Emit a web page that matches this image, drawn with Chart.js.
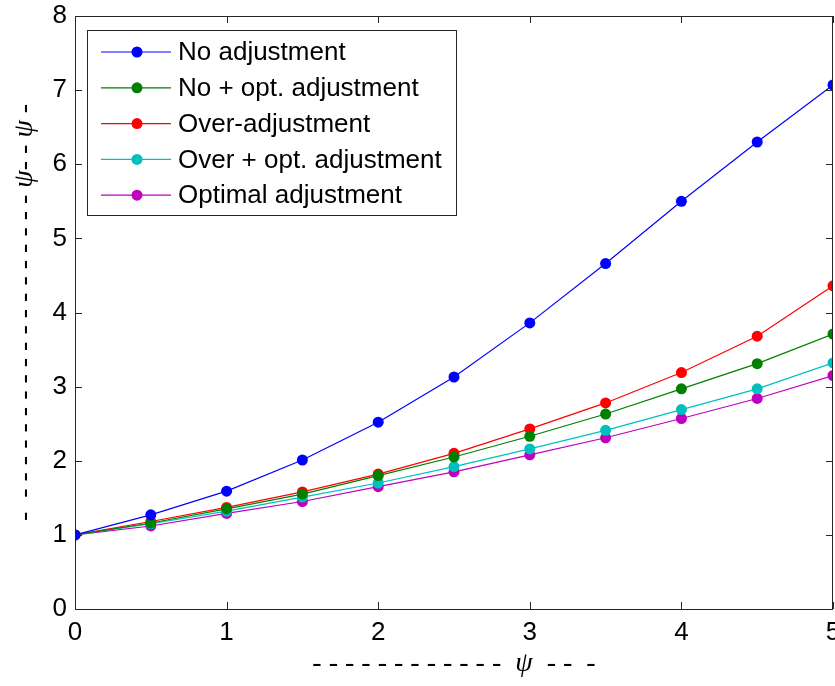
<!DOCTYPE html>
<html>
<head>
<meta charset="utf-8">
<script src="https://cdn.jsdelivr.net/npm/chart.js"></script>
<style>
  html, body { margin: 0; padding: 0; background: #fff; }
  #wrap { width: 835px; height: 686px; }
</style>
</head>
<body>
<div id="wrap"><canvas id="myChart" width="835" height="686"></canvas></div>
<script>
const xValues = [0, 0.5, 1, 1.5, 2, 2.5, 3, 3.5, 4, 4.5, 5];
const xTicks = [0, 1, 2, 3, 4, 5];
const yTicks = [0, 1, 2, 3, 4, 5, 6, 7, 8];

const noAdj      = [1, 1.27, 1.59, 2.01, 2.52, 3.13, 3.86, 4.66, 5.50, 6.30, 7.07];
const noOptAdj   = [1, 1.16, 1.35, 1.55, 1.80, 2.05, 2.33, 2.63, 2.97, 3.31, 3.71];
const overAdj    = [1, 1.18, 1.37, 1.58, 1.82, 2.10, 2.43, 2.78, 3.19, 3.68, 4.36];
const overOptAdj = [1, 1.15, 1.32, 1.51, 1.70, 1.92, 2.16, 2.41, 2.69, 2.97, 3.32];
const optimalAdj = [1, 1.12, 1.29, 1.45, 1.65, 1.85, 2.08, 2.31, 2.57, 2.84, 3.15];

const seriesNames = ['No adjustment', 'No + opt. adjustment', 'Over-adjustment', 'Over + opt. adjustment', 'Optimal adjustment'];
const seriesValues = [noAdj, noOptAdj, overAdj, overOptAdj, optimalAdj];
const colors = ['#0000ff', '#008000', '#ff0000', '#00bfbf', '#bf00bf'];

const xTitle = '- - - - - - - - - - - -  \u03c8  - -  -';
const yTitle = '-  - - - - - - - - - - - - - - - - - - - \u03c8- - \u03c8 -';

const FONT = '"Liberation Sans", Arial, sans-serif';
const TITLE_FONT = '"Liberation Serif", "Times New Roman", serif';
const AXIS = '#262626';

// box round the plot with inward ticks on all four sides
const framePlugin = {
    id: 'frame',
    afterDatasetsDraw(chart) {
        const { ctx, chartArea: a, scales } = chart;
        ctx.save();
        ctx.strokeStyle = AXIS;
        ctx.lineWidth = 1;
        ctx.strokeRect(a.left + 0.5, a.top + 0.5, a.right - a.left - 1, a.bottom - a.top);
        const len = 7;
        ctx.beginPath();
        xTicks.forEach(v => {
            const px = Math.round(scales.x.getPixelForValue(v)) + 0.5;
            ctx.moveTo(px, a.bottom); ctx.lineTo(px, a.bottom - len);
            ctx.moveTo(px, a.top); ctx.lineTo(px, a.top + len);
        });
        yTicks.forEach(v => {
            const py = Math.round(scales.y.getPixelForValue(v)) + 0.5;
            ctx.moveTo(a.left, py); ctx.lineTo(a.left + len, py);
            ctx.moveTo(a.right, py); ctx.lineTo(a.right - len, py);
        });
        ctx.stroke();
        ctx.restore();
    }
};

// MATLAB style legend box in the upper left
const legendBox = {
    id: 'legendBox',
    afterDraw(chart) {
        const { ctx, chartArea: a } = chart;
        const x0 = a.left + 12, y0 = a.top + 14;
        const w = 369, rowH = 35.8;
        const h = rowH * seriesNames.length + 6;
        ctx.save();
        ctx.fillStyle = '#fff';
        ctx.fillRect(x0, y0, w, h);
        ctx.strokeStyle = AXIS;
        ctx.lineWidth = 1;
        ctx.strokeRect(x0 + 0.5, y0 + 0.5, w, h);
        ctx.font = '26px ' + FONT;
        ctx.textBaseline = 'middle';
        seriesNames.forEach((name, i) => {
            const cy = y0 + 22 + i * rowH;
            ctx.strokeStyle = colors[i];
            ctx.lineWidth = 1.2;
            ctx.beginPath();
            ctx.moveTo(x0 + 14, cy); ctx.lineTo(x0 + 84, cy);
            ctx.stroke();
            ctx.fillStyle = colors[i];
            ctx.beginPath();
            ctx.arc(x0 + 50, cy, 5.5, 0, Math.PI * 2);
            ctx.fill();
            ctx.fillStyle = '#000';
            ctx.fillText(name, x0 + 91, cy + 1);
        });
        ctx.restore();
    }
};

const ctx = document.getElementById('myChart');

new Chart(ctx, {
    type: 'line',
    data: {
        datasets: seriesNames.map((name, i) => ({
            label: name,
            data: xValues.map((x, j) => ({ x: x, y: seriesValues[i][j] })),
            borderColor: colors[i],
            backgroundColor: colors[i],
            pointBackgroundColor: colors[i],
            pointBorderColor: colors[i],
            borderWidth: 1.2,
            pointRadius: 5.5,
            pointBorderWidth: 0,
            tension: 0,
            fill: false,
            clip: 0
        }))
    },
    options: {
        responsive: false,
        animation: false,
        layout: { autoPadding: false, padding: { top: 16, right: 2, left: 0, bottom: 0 } },
        scales: {
            x: {
                type: 'linear',
                min: 0,
                max: 5,
                afterBuildTicks: s => { s.ticks = xTicks.map(v => ({ value: v })); },
                afterFit: s => { s.height = 77; s.paddingLeft = 0; s.paddingRight = 0; },
                grid: { display: false, drawTicks: false },
                border: { display: false },
                ticks: {
                    padding: 8,
                    color: '#000',
                    maxRotation: 0,
                    font: { family: FONT, size: 26 }
                },
                title: {
                    display: true,
                    text: xTitle,
                    color: '#000',
                    padding: { top: 0, bottom: 6 },
                    font: { family: TITLE_FONT, size: 28, style: 'italic' }
                }
            },
            y: {
                type: 'linear',
                min: 0,
                max: 8,
                afterBuildTicks: s => { s.ticks = yTicks.map(v => ({ value: v })); },
                afterFit: s => { s.width = 75; s.paddingTop = 0; s.paddingBottom = 0; },
                grid: { display: false, drawTicks: false },
                border: { display: false },
                ticks: {
                    padding: 8,
                    color: '#000',
                    font: { family: FONT, size: 26 }
                },
                title: {
                    display: true,
                    text: yTitle,
                    color: '#000',
                    padding: { top: 8, bottom: 0 },
                    font: { family: TITLE_FONT, size: 28, style: 'italic' }
                }
            }
        },
        plugins: {
            legend: { display: false },
            tooltip: { enabled: false }
        }
    },
    plugins: [framePlugin, legendBox]
});
</script>
</body>
</html>
